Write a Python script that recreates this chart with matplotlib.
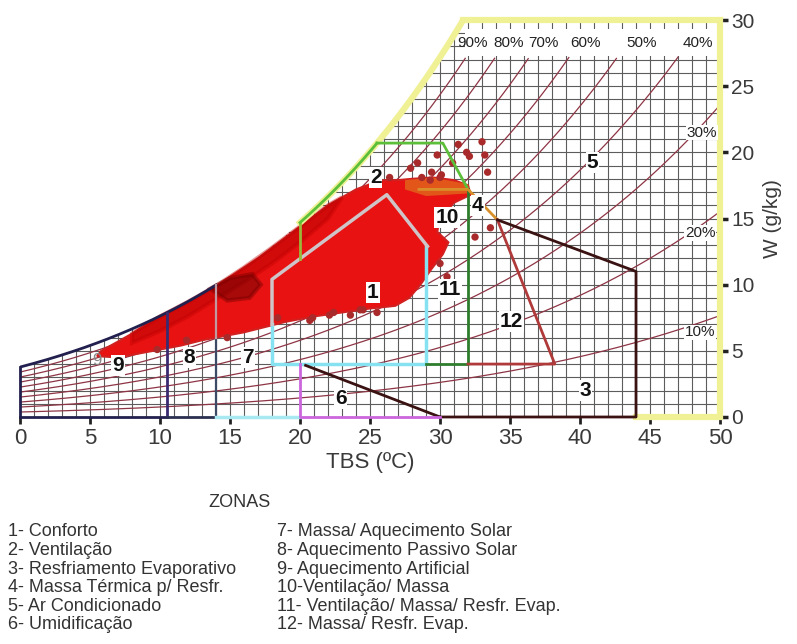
#! /usr/bin/env python3

import numpy as np
import matplotlib.pyplot as plt
from matplotlib.patches import Polygon, Rectangle
plt.rcParams['font.family'] = ['Liberation Sans', 'DejaVu Sans']


#======================================================================
#    Psychrometric helpers (sea level)
P_ATM = 101.325

def psat(t):
    # saturation vapour pressure, kPa
    return 0.61078*np.exp(17.27*t/(t + 237.3))

def wsat(t, rh=1.0):
    # humidity ratio, g/kg
    p = rh*psat(t)
    return 622*p/(P_ATM - p)


#======================================================================
#    Values
rh_levels = [10, 20, 30, 40, 50, 60, 70, 80, 90]
rh_top_labels = ['90%', '80%', '70%', '60%', '50%', '40%']
rh_top_t = [32.3, 34.9, 37.4, 40.4, 44.4, 48.4]
rh_side_labels = ['30%', '20%', '10%']
rh_side_t = [48.7, 48.6, 48.6]
rh_side_w = [21.5, 13.9, 6.4]

# zone boundaries (TBS, W)
z1_grey_t = [18, 18, 26.2, 29.1]
z1_grey_w = [7.0, 10.4, 16.8, 12.9]
z1_cyan_t = [18, 18, 29, 29]
z1_cyan_w = [7.0, 4, 4, 12.9]
z2_top_t = [25.5, 30.2, 32]
z2_top_w = [20.7, 20.7, 17.2]
z2_side_t = [32, 32, 29]
z2_side_w = [17.2, 4, 4]
z4_t = [28.5, 32, 34.1]
z4_w = [17.2, 17.2, 14.9]
z12_t = [34.1, 38.2, 32]
z12_w = [14.9, 4, 4]
z3_t = [34.1, 44, 44, 30]
z3_w = [14.9, 11, 0, 0]
z6_t = [20.4, 30]
z6_w = [3.9, 0]
z6_mag_t = [20, 20, 30]
z6_mag_w = [4, 0, 0]
z7_t = [14, 20]
z9_t = [0, 10.5]
z8_t = [10.5, 14]

zone_names = ['1', '2', '3', '4', '5', '6', '7', '8', '9', '10', '11', '12']
zone_t = [25.2, 25.4, 40.4, 32.7, 40.9, 22.9, 16.3, 12.1, 7.0, 30.5, 30.7, 35.1]
zone_w = [9.4, 18.1, 2.0, 16.0, 19.2, 1.4, 4.5, 4.5, 3.9, 15.1, 9.6, 7.2]

# hourly data cloud, outline and shading
cloud_t = [5.8, 7, 8, 9, 10, 11, 12, 13, 14, 15, 16, 17, 18, 19, 20, 21,
           22, 23, 24, 25, 26, 27, 28, 29.5, 31, 32, 32.2, 31, 30, 29.8,
           30.6, 30.2, 29.4, 28.6, 27.8, 26.8, 25, 23, 21, 19, 17.5, 16,
           14.5, 13, 11.5, 10, 8.5, 7, 5.5]
cloud_w = [5.0, 5.7, 6.3, 7.0, 7.6, 8.1, 8.7, 9.3, 9.9, 10.6, 11.3, 12.0,
           12.8, 13.6, 14.4, 15.2, 16.0, 16.6, 17.2, 17.6, 17.9, 17.9,
           18.0, 18.1, 17.9, 17.5, 16.8, 16.2, 15.0, 14.0, 13.2, 12.3,
           11.2, 10.0, 9.0, 8.4, 8.2, 7.9, 7.6, 7.2, 6.8, 6.4, 6.1, 5.8,
           5.4, 5.1, 4.8, 4.5, 4.6]
dense_t = [8, 10, 12, 14, 16, 18, 20, 22, 23, 22, 20, 18, 16, 14, 12, 10, 8]
dense_w = [6.3, 7.6, 8.7, 9.9, 11.3, 12.8, 14.4, 16.0, 16.6, 15.0, 13.2,
           11.6, 10.2, 8.9, 7.6, 6.5, 5.6]
core_t = [13.6, 15.0, 16.6, 17.2, 16.4, 14.8]
core_w = [9.7, 10.5, 10.8, 10.0, 9.0, 8.8]
hot_t = [27.5, 29.5, 32, 32.1, 29, 27.5]
hot_w = [17.9, 18.1, 17.6, 16.9, 16.7, 17.2]

dots_t = [31.3, 33.0, 31.9, 33.2, 33.4, 27.9, 29.4, 30.1, 28.7, 33.6, 32.5,
          29.8, 30.9, 28.4, 32.1, 26.4, 30.0, 30.5, 29.3, 30.0, 20.7, 22.1,
          23.6, 24.5, 25.5, 18.4, 11.9, 14.8, 9.8, 20.9, 22.4, 24.3]
dots_w = [20.6, 20.8, 20.0, 19.8, 18.5, 18.8, 18.5, 18.3, 18.1, 14.3, 13.6,
          19.8, 19.2, 19.2, 19.7, 18.1, 11.6, 10.6, 17.9, 18.1, 7.3, 7.7,
          7.7, 8.1, 7.9, 7.5, 5.8, 6.0, 5.1, 7.5, 7.9, 8.1]

legend_left = ['1- Conforto', '2- Ventilação', '3- Resfriamento Evaporativo',
               '4- Massa Térmica p/ Resfr.', '5- Ar Condicionado',
               '6- Umidificação']
legend_right = ['7- Massa/ Aquecimento Solar', '8- Aquecimento Passivo Solar',
                '9- Aquecimento Artificial', '10-Ventilação/ Massa',
                '11- Ventilação/ Massa/ Resfr. Evap.',
                '12- Massa/ Resfr. Evap.']


#======================================================================
#    Code begins here
fig = plt.figure(figsize=(7.97, 6.44), dpi=100)
ax = fig.add_axes([0.0251, 0.3525, 0.8783, 0.6164])
ax.set_xlim(0, 50)
ax.set_ylim(0, 30)
for s in ax.spines.values():
    s.set_visible(False)

tt = np.linspace(0, 50, 501)
ws = wsat(tt)
t_top = np.interp(30, ws, tt)

# grid under the saturation curve
gcol = '#5c5c5c'
for i in range(0, 51):
    ax.plot([i, i], [0, min(wsat(i), 30)], color=gcol, lw=0.8, zorder=1)
for j in range(1, 31):
    ax.plot([np.interp(j, ws, tt), 50], [j, j], color=gcol, lw=0.8, zorder=1)

# relative humidity lines
for rh in rh_levels:
    w = wsat(tt, rh/100)
    m = w <= (27.2 if rh >= 40 else 30)
    ax.plot(tt[m], w[m], color='#8e3545', lw=0.9, zorder=2)

ax.add_patch(Rectangle((31.8, 27.25), 18.0, 2.1, facecolor='white',
                       edgecolor='none', zorder=3))
for lab, t in zip(rh_top_labels, rh_top_t):
    ax.text(t, 28.25, lab, fontsize=11, ha='center', va='center',
            color='#222222', zorder=7)
for lab, t, w in zip(rh_side_labels, rh_side_t, rh_side_w):
    ax.text(t, w, lab, fontsize=11, ha='center', va='center', color='#222222',
            zorder=7, bbox=dict(facecolor='white', edgecolor='none', pad=0.5))

# data cloud
ax.add_patch(Polygon(np.column_stack([cloud_t, cloud_w]), closed=True,
                     facecolor='#e81212', edgecolor='#d22020', lw=1.5, zorder=3))
ax.add_patch(Polygon(np.column_stack([dense_t, dense_w]), closed=True,
                     facecolor='#b00000', edgecolor='#c00000', lw=3,
                     alpha=0.4, zorder=3))
ax.add_patch(Polygon(np.column_stack([core_t, core_w]), closed=True,
                     facecolor='#5a0000', edgecolor='#7a0000', lw=3,
                     alpha=0.45, zorder=3))
ax.add_patch(Polygon(np.column_stack([hot_t, hot_w]), closed=True,
                     facecolor='#e2561a', edgecolor='none', zorder=3))
ax.scatter(dots_t, dots_w, s=28, color='#a82a2a', edgecolors='none', zorder=4)

# boundary of the chart (yellow)
yel = '#f0f095'
tm = (tt >= 20) & (tt <= t_top)
ax.plot(tt[tm], ws[tm], color=yel, lw=4.5, zorder=4, clip_on=False)
ax.plot([t_top, 50, 50, 44], [30, 30, 0, 0], color=yel, lw=4.5, zorder=4,
        clip_on=False, solid_joinstyle='miter')

# zone lines
navy = '#22204e'
tm = tt <= 14
ax.plot(tt[tm], ws[tm], color=navy, lw=2, zorder=5)
ax.plot([0, 0], [0, wsat(0)], color=navy, lw=2, zorder=5, clip_on=False)
ax.plot(z9_t, [0, 0], color=navy, lw=2, zorder=5, clip_on=False)
ax.plot([z9_t[1], z9_t[1]], [0, wsat(z9_t[1])], color='#3a2a70', lw=2, zorder=5)
ax.plot(z8_t, [0, 0], color='#2a3050', lw=2, zorder=5, clip_on=False)
ax.plot([z8_t[1], z8_t[1]], [0, 6], color='#3c4a66', lw=1.6, zorder=5)
ax.plot([z8_t[1], z8_t[1]], [6, wsat(z8_t[1])], color='#c09aa0', lw=1.6,
        zorder=5)
ax.plot(z7_t, [0, 0], color='#a8e8f0', lw=2.5, zorder=5, clip_on=False)

ax.plot(z1_cyan_t, z1_cyan_w, color='#86e2f0', lw=2.5, zorder=5)
ax.plot(z1_grey_t, z1_grey_w, color='#cfc4c8', lw=2.5, zorder=5)

green = '#5cbf3a'
w20 = 10.4 + (20 - 18)*(16.8 - 10.4)/(26.2 - 18)
ax.plot([20, 20], [w20, wsat(20)], color='#9ab83a', lw=2, zorder=5)
tm = (tt >= 20) & (tt <= 25.5)
ax.plot(tt[tm], ws[tm], color=green, lw=2, zorder=5)
ax.plot(z2_top_t, z2_top_w, color=green, lw=2, zorder=5)
ax.plot(z2_side_t, z2_side_w, color='#2e7d2e', lw=2, zorder=5)

ax.plot(z4_t, z4_w, color='#d8902a', lw=2, zorder=5)
ax.plot(z12_t, z12_w, color='#b03a3a', lw=2, zorder=5)
ax.plot(z3_t, z3_w, color='#3a1212', lw=2, zorder=5, clip_on=False)
ax.plot(z6_t, z6_w, color='#3a1212', lw=2, zorder=5)
ax.plot(z6_mag_t, z6_mag_w, color='#cc66dd', lw=2, zorder=5, clip_on=False)

# zone numbers
for lab, t, w in zip(zone_names, zone_t, zone_w):
    ax.text(t, w, lab, fontsize=15, fontweight='bold', ha='center',
            va='center', color='#111111', zorder=8,
            bbox=dict(facecolor='white', edgecolor='none', pad=0.8))
ax.text(5.5, 4.3, '9', fontsize=12, color='#888888', ha='center',
        va='center', zorder=7)

# axes
ax.set_xticks(np.arange(0, 51, 5))
ax.set_yticks(np.arange(0, 31, 5))
ax.yaxis.tick_right()
ax.yaxis.set_label_position('right')
ax.tick_params(axis='x', labelsize=16, length=5, width=2, color='#222222',
               labelcolor='#3a3a3a', pad=3)
ax.tick_params(axis='y', labelsize=15, length=6, width=2.5, color='#222222',
               labelcolor='#3a3a3a', pad=2)
ax.set_xlabel('TBS (ºC)', fontsize=16, color='#3a3a3a', labelpad=2)
ax.set_ylabel('W (g/kg)', fontsize=15, color='#3a3a3a', labelpad=6)

# legend of zones
fig.text(0.301, 0.219, 'ZONAS', fontsize=13, color='#333333', ha='center',
         va='center')
for k, (a, b) in enumerate(zip(legend_left, legend_right)):
    y = 0.174 - k*0.0288
    fig.text(0.010, y, a, fontsize=13, color='#333333', va='center')
    fig.text(0.3476, y, b, fontsize=13, color='#333333', va='center')

plt.savefig('out.png', dpi=100)
